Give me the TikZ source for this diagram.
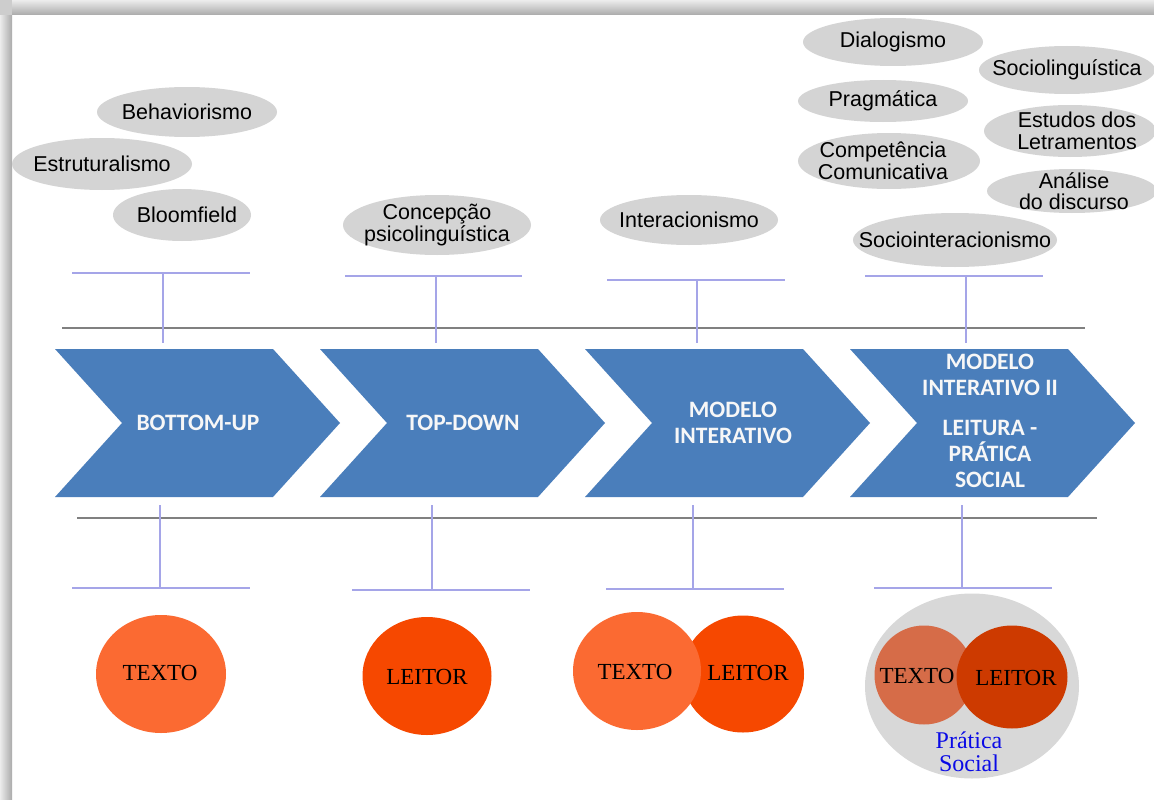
\documentclass[tikz,border=0pt]{standalone}
\usepackage{fontspec}
\setmainfont{Liberation Serif}
\setsansfont{Liberation Sans}
\newfontfamily\chevfont{Carlito}
\usetikzlibrary{shapes.geometric}

\definecolor{chevblue}{RGB}{74,126,187}
\definecolor{bubblegray}{RGB}{212,212,212}
\definecolor{tickcol}{RGB}{165,165,232}
\definecolor{rulecol}{RGB}{128,128,128}
\definecolor{txtorange}{RGB}{251,106,50}
\definecolor{leiorange}{RGB}{246,72,0}
\definecolor{txtmuted}{RGB}{214,108,72}
\definecolor{leidark}{RGB}{205,58,0}
\definecolor{halo}{RGB}{216,216,216}
\definecolor{socblue}{RGB}{10,10,230}
\definecolor{shadelight}{RGB}{236,236,236}
\definecolor{shadedark}{RGB}{170,170,170}
\definecolor{shadecorner}{RGB}{205,205,205}

% a grey bubble of given radii with its label set on top
\newcommand{\theorybubble}[6]{%
  \fill[bubblegray] (#2) ellipse [x radius=#3, y radius=#4];
  \node[bubbletext] (#1) at ($(#2)+(#5,0)$) {#6};
}

\usetikzlibrary{calc}

\begin{document}
\begin{tikzpicture}[x=1pt,y=-1pt,
  bubbletext/.style={inner sep=0pt, align=center,
    font=\sffamily\fontsize{21.5}{21.5}\selectfont},
  chevron/.style={fill=chevblue},
  chevtext/.style={text=white!94!gray, align=center,
    font=\chevfont\bfseries\fontsize{23.5}{26}\selectfont},
  tickline/.style={draw=tickcol, line width=1.3pt},
  rulerline/.style={draw=rulecol, line width=1.6pt},
  disc/.style={ellipse, inner sep=0pt},
  disctext/.style={font=\rmfamily\fontsize{23}{25}\selectfont, text=black},
]
\useasboundingbox (0,0) rectangle (1154,800);
\fill[white] (0,0) rectangle (1154,800);

% page shadow along the top and left edges
\shade[top color=shadelight, bottom color=shadedark] (12,0) rectangle (1154,15);
\shade[left color=shadelight, right color=shadedark] (0,15) rectangle (12,800);
\fill[shadecorner] (0,0) rectangle (12,15);

% theory bubbles: name, centre, x radius, y radius, label shift, label
\theorybubble{estr}{102,164}{90}{26}{0}{Estruturalismo}
\theorybubble{beh}{187,112}{90}{25}{0}{Behaviorismo}
\theorybubble{bloom}{182,215}{69}{26}{5}{Bloomfield}
\theorybubble{conc}{437,225}{94}{30}{0}{Concepção\\psicolinguística}
\theorybubble{inter}{689,220}{89}{25}{0}{Interacionismo}
\theorybubble{dial}{893,42}{90}{24}{0}{Dialogismo}
\theorybubble{socling}{1067,70}{88}{24}{0}{Sociolinguística}
\theorybubble{prag}{883,101}{85}{21}{0}{Pragmática}
\theorybubble{estud}{1070,131}{86}{26}{7}{Estudos dos\\Letramentos}
\theorybubble{comp}{889,161}{91}{28}{-6}{Competência\\Comunicativa}
\theorybubble{anal}{1072,191}{85}{22}{2}{Análise\\do discurso}
\theorybubble{socint}{955,240}{102}{27}{0}{Sociointeracionismo}

% horizontal rules
\coordinate (rt1) at (62,328);  \coordinate (rt2) at (1085,328);
\coordinate (rb1) at (77,518);  \coordinate (rb2) at (1097,518);
\draw[rulerline] (rt1) -- (rt2);
\draw[rulerline] (rb1) -- (rb2);

% chevrons
\foreach \L in {55,320,585,850}{
  \fill[chevron] (\L,349) -- ++(218,0) -- ++(67,74) -- ++(-67,74) -- ++(-218,0) -- ++(67,-74) -- cycle;
}
\node[chevtext] (bu) at (198,423) {BOTTOM-UP};
\node[chevtext] (td) at (463,423) {TOP-DOWN};
\node[chevtext] (mi) at (733,423) {MODELO\\INTERATIVO};
\node[chevtext] (mi2) at (990,421) {MODELO\\INTERATIVO II\\[14pt]LEITURA -\\PRÁTICA\\SOCIAL};

% upper brackets
\foreach \a/\b/\v/\y/\n in {72/250/163/273/1, 345/522/436/276/2, 607/785/697/280/3, 865/1043/966/276/4}{
  \coordinate (ua\n) at (\a,\y); \coordinate (ub\n) at (\b,\y);
  \coordinate (ut\n) at (\v,\y); \coordinate (us\n) at (\v,343);
  \draw[tickline] (ua\n) -- (ub\n);
  \draw[tickline] (ut\n) -- (us\n);
}
% lower brackets
\foreach \a/\b/\v/\y/\n in {72/250/160/588/1, 352/530/432/590/2, 606/784/693/589/3, 874/1052/962/588/4}{
  \coordinate (la\n) at (\a,\y); \coordinate (lb\n) at (\b,\y);
  \coordinate (lt\n) at (\v,\y); \coordinate (ls\n) at (\v,505);
  \draw[tickline] (la\n) -- (lb\n);
  \draw[tickline] (ls\n) -- (lt\n);
}

% reader / text discs
\node[disc, fill=txtorange, minimum width=130, minimum height=118] (t1) at (161,674) {};
\node[disctext] (t1l) at (160,673) {TEXTO};

\node[disc, fill=leiorange, minimum width=129, minimum height=118] (l2) at (427,676) {};
\node[disctext] (l2l) at (427,677) {LEITOR};

\node[disc, fill=leiorange, minimum width=122, minimum height=117] (l3) at (743,674) {};
\node[disc, fill=txtorange, minimum width=128, minimum height=118] (t3) at (637,671) {};
\node[disctext] (t3l) at (635,672) {TEXTO};
\node[disctext] (l3l) at (748,673) {LEITOR};

\node[disc, fill=halo, minimum width=214, minimum height=185] (ps) at (972,686) {};
\node[disc, fill=txtmuted, minimum width=99, minimum height=99] (t4) at (924,675) {};
\node[disc, fill=leidark, minimum width=111, minimum height=103] (l4) at (1012,677) {};
\node[disctext] (t4l) at (917,676) {TEXTO};
\node[disctext] (l4l) at (1016,678) {LEITOR};
\node[align=center, text=socblue, font=\rmfamily\fontsize{24}{23}\selectfont] (psl) at (969,752) {Prática\\Social};

\end{tikzpicture}
\end{document}
